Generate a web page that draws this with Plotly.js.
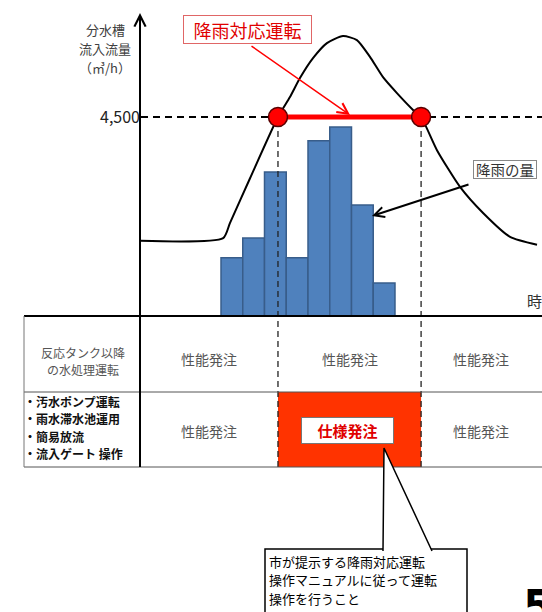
<!DOCTYPE html>
<html><head><meta charset="utf-8">
<script src="https://cdn.plot.ly/plotly-3.0.1.min.js"></script>
<style>html,body{margin:0;padding:0;background:#fff;}#chart{width:542px;height:612px;}</style>
</head><body><div id="chart"></div>
<script>
// ---- data (time in rainfall-interval units) ----
const rainTime = [4, 5, 6, 7, 8, 9, 10, 11];
const rainAmount = [9.7, 13, 24, 9.7, 29.2, 31.5, 18.5, 5.5];   // mm/h
const flowTime = [-0.2, 3.6, 3.91, 4.83, 6.12, 6.67, 7.13, 7.73, 8.37, 9.11, 9.75, 10.35, 10.95, 11.59, 12.33, 12.70, 13.43, 14.49, 15.55, 16.79, 18.03];
const flowRate = [1700, 1760, 2100, 3110, 4500, 4950, 5380, 5830, 6170, 6330, 6240, 5860, 5400, 5040, 4660, 4500, 3750, 2920, 2330, 1790, 1610]; // m3/h
const threshold = 4500;
const yTickVals = [4500];
const yTickText = ['4,500'];
const yTitle = ['分水槽', '流入流量', '（㎥/h）'];
const xTitle = '時間';
const opLabel = '降雨対応運転';
const rainLabel = '降雨の量';
const rowLabels1 = ['反応タンク以降', 'の水処理運転'];
const rowLabels2 = ['・汚水ポンプ運転', '・雨水滞水池運用', '・簡易放流', '・流入ゲート 操作'];
const perfOrder = '性能発注';
const specOrder = '仕様発注';
const noteLines = ['市が提示する降雨対応運転', '操作マニュアルに従って運転', '操作を行うこと'];
const pageNo = '5';

// ---- layout helpers ----
const W = 542, H = 612;
const X = p => p / W;
const Y = p => 1 - p / H;
const FONT = '"Noto Sans CJK JP", "Noto Sans", sans-serif';
const yDomain = [Y(316), Y(12)];
const yRange = [0, 6874.4];
const xRange = [-6.661, 18.259];
const yPaper = v => yDomain[0] + (v - yRange[0]) / (yRange[1] - yRange[0]) * (yDomain[1] - yDomain[0]);

function upCross(t, q, thr) {
  for (let i = 0; i < t.length - 1; i++) {
    if (q[i] < thr && q[i + 1] >= thr) return t[i] + (thr - q[i]) / (q[i + 1] - q[i]) * (t[i + 1] - t[i]);
  }
}
function downCross(t, q, thr) {
  for (let i = t.length - 2; i >= 0; i--) {
    if (q[i] >= thr && q[i + 1] < thr) return t[i] + (q[i] - thr) / (q[i] - q[i + 1]) * (t[i + 1] - t[i]);
  }
}
const tStart = upCross(flowTime, flowRate, threshold);
const tEnd = downCross(flowTime, flowRate, threshold);

const traces = [
  { type: 'bar', x: rainTime, y: rainAmount, yaxis: 'y2', width: 1,
    marker: { color: '#4F81BD', line: { color: '#385D8A', width: 1.5 } }, hoverinfo: 'skip' },
  { type: 'scatter', mode: 'lines', x: flowTime, y: flowRate,
    line: { color: '#000', width: 2, shape: 'spline', smoothing: 0.6 }, hoverinfo: 'skip' },
  { type: 'scatter', mode: 'lines', x: [tStart, tEnd], y: [threshold, threshold],
    line: { color: '#FF0000', width: 5 }, hoverinfo: 'skip' },
  { type: 'scatter', mode: 'markers', x: [tStart, tEnd], y: [threshold, threshold],
    marker: { size: 19, color: '#FF0000', line: { color: '#5a0000', width: 1.5 } }, hoverinfo: 'skip' }
];

const hline = (x0, x1, y, color, w) => ({ type: 'line', xref: 'paper', yref: 'paper', x0: X(x0), x1: X(x1), y0: Y(y), y1: Y(y), line: { color: color, width: w } });
const vline = (x, y0, y1, color, w) => ({ type: 'line', xref: 'paper', yref: 'paper', x0: X(x), x1: X(x), y0: Y(y0), y1: Y(y1), line: { color: color, width: w } });

const shapes = [
  // threshold dashed line
  { type: 'line', layer: 'below', xref: 'paper', yref: 'y', x0: X(141), x1: 1, y0: threshold, y1: threshold,
    line: { color: '#000', width: 2, dash: '7px,5px' } },
  // red spec-order cell
  { type: 'rect', xref: 'x', yref: 'paper', x0: tStart, x1: tEnd, y0: Y(467), y1: Y(392),
    fillcolor: '#FF3300', line: { width: 0 } },
  // vertical dashed guides
  { type: 'line', xref: 'x', yref: 'paper', x0: tStart, x1: tStart, y0: Y(467), y1: yPaper(threshold) - 9.5 / H,
    line: { color: '#222', width: 1.3, dash: '6px,4px' } },
  { type: 'line', xref: 'x', yref: 'paper', x0: tEnd, x1: tEnd, y0: Y(467), y1: yPaper(threshold) - 9.5 / H,
    line: { color: '#222', width: 1.3, dash: '6px,4px' } },
  // table lines
  hline(24, 542, 316, '#000', 2),
  hline(24, 542, 392, '#555', 1),
  hline(24, 542, 467, '#555', 1),
  vline(24, 316, 467, '#777', 1),
  // y axis line
  vline(140, 467, 16, '#000', 2),
  // callout box
  { type: 'rect', xref: 'paper', yref: 'paper', x0: X(265), x1: X(467), y0: Y(620), y1: Y(549),
    fillcolor: '#fff', line: { color: '#000', width: 1.5 } },
  // callout wedge
  { type: 'path', xref: 'paper', yref: 'paper',
    path: `M ${X(383)},${Y(551)} L ${X(384)},${Y(448)} L ${X(432)},${Y(551)}`,
    fillcolor: '#fff', line: { color: '#000', width: 1.5 } }
];

const txt = (text, x, y, size, color, extra) => Object.assign({
  text: text, xref: 'paper', yref: 'paper', x: X(x), y: Y(y), showarrow: false,
  xanchor: 'center', yanchor: 'middle', borderpad: 0,
  font: { family: FONT, size: size, color: color }
}, extra || {});

const annotations = [
  txt(xTitle, 526, 300, 15, '#333', { xanchor: 'left' }),
  // axis arrowhead
  { text: '', xref: 'paper', yref: 'paper', x: X(140), y: Y(13), ax: 0, ay: 30, showarrow: true,
    arrowhead: 5, arrowsize: 1.1, arrowwidth: 2, arrowcolor: '#000' },
  // rain operation label + arrow
  txt(opLabel, 247.5, 29.5, 18, '#E00000', { bgcolor: '#fff', bordercolor: '#E06666', borderwidth: 1, borderpad: 1, width: 125, height: 25 }),
  { text: '', xref: 'paper', yref: 'paper', x: X(350), y: Y(115), ax: -100, ay: -70, showarrow: true,
    arrowhead: 5, arrowsize: 1.4, arrowwidth: 1.5, arrowcolor: '#FF0000' },
  // rainfall label + arrow
  { text: '', xref: 'paper', yref: 'paper', x: X(372), y: Y(216), ax: 98, ay: -32, showarrow: true,
    arrowhead: 5, arrowsize: 1, arrowwidth: 2, arrowcolor: '#000' },
  txt(rainLabel, 505, 169, 14.5, '#333', { bgcolor: '#fff', bordercolor: '#888', borderwidth: 1, borderpad: 1, width: 60, height: 15 }),
  // table row 1
  txt(perfOrder, 209, 359, 14, '#555'),
  txt(perfOrder, 349.5, 359, 14, '#555'),
  txt(perfOrder, 481, 359, 14, '#555'),
  // table row 2
  txt(perfOrder, 209, 431, 14, '#555'),
  txt(perfOrder, 481, 431, 14, '#555'),
  txt('<b>' + specOrder + '</b>', 347.5, 430.5, 15, '#E00000', { bgcolor: '#fff', bordercolor: '#777', borderwidth: 1, borderpad: 1, width: 89, height: 23 }),
  txt(pageNo, 522, 606, 44, '#000', { xanchor: 'left', font: { family: '"DejaVu Sans", sans-serif', size: 44, color: '#000', weight: 'bold' } })
];
// multi-line labels, one annotation per line for tight line spacing
const yTitleY = [29.5, 48.5, 67.5];
yTitle.forEach((s, i) => annotations.push(txt(s, 105, yTitleY[i], 13, '#404040')));
const row1Y = [352, 369.5];
rowLabels1.forEach((s, i) => annotations.push(txt(s, 83, row1Y[i], 12, '#555')));
const row2Y = [401, 418.5, 436, 453.5];
rowLabels2.forEach((s, i) => annotations.push(txt('<b>' + s + '</b>', 23, row2Y[i], 12, '#111', { xanchor: 'left' })));
const noteY = [561, 579.5, 598];
noteLines.forEach((s, i) => annotations.push(txt(s, 268, noteY[i], 13, '#000', { xanchor: 'left' })));

const layout = {
  width: W, height: H, margin: { l: 0, r: 0, t: 0, b: 0 },
  paper_bgcolor: '#fff', plot_bgcolor: 'rgba(0,0,0,0)',
  showlegend: false, bargap: 0,
  font: { family: FONT },
  xaxis: { domain: [0, 1], range: xRange, visible: false, fixedrange: true },
  yaxis: { domain: yDomain, range: yRange, anchor: 'free', position: X(140),
    showline: false, showgrid: false, zeroline: false, ticks: '',
    tickvals: yTickVals, ticktext: yTickText, tickfont: { family: FONT, size: 16, color: '#222' }, fixedrange: true },
  yaxis2: { overlaying: 'y', range: [0, 50.667], visible: false, fixedrange: true },
  shapes: shapes,
  annotations: annotations
};

Plotly.newPlot('chart', traces, layout, { staticPlot: true, displayModeBar: false });
</script>
</body></html>
